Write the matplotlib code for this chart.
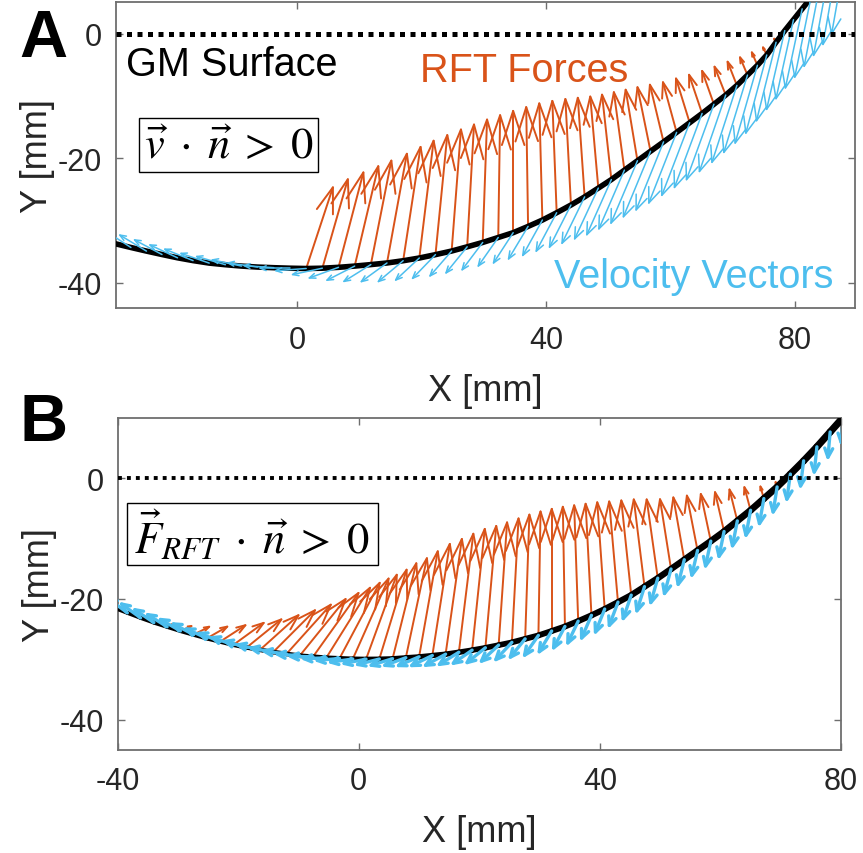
import numpy as np
import matplotlib
matplotlib.use("Agg")
import matplotlib.pyplot as plt
from matplotlib.collections import LineCollection
from matplotlib.patches import Rectangle

plt.rcParams['font.family'] = ['Liberation Sans', 'DejaVu Sans']
plt.rcParams['mathtext.fontset'] = 'stix'
plt.rcParams['axes.unicode_minus'] = False

ORANGE = '#D95319'
BLUE = '#4DBEEE'
NA = np.nan

# ---------------- Panel A: v . n > 0 ----------------
a_x = [-31.8, -29.3, -26.8, -24.3, -21.8, -19.3, -16.8, -14.2, -11.6, -9.0, -6.4, -3.8, -1.2,
       1.4, 4.0, 6.6, 9.2, 11.8, 14.4, 17.0, 19.6, 22.2, 24.8,
       27.3, 29.8, 32.3, 34.7, 37.1, 39.4, 41.7, 44.0, 46.2, 48.4,
       50.5, 52.6, 54.7, 56.8, 58.9, 61.0, 63.1, 65.1, 67.0, 68.9,
       70.7, 72.4, 74.0, 75.5, 77.0, 78.4, 79.8, 81.2, 82.6, 84.0,
       85.4, 86.8, 88.2]
a_y = [-33.17, -33.77, -34.37, -34.95, -35.50, -36.03, -36.48, -36.88, -37.14, -37.36, -37.52, -37.62, -37.70,
       -37.75, -37.70, -37.56, -37.36, -37.12, -36.86, -36.50, -36.06, -35.52, -34.94,
       -34.26, -33.56, -32.76, -31.99, -30.98, -29.96, -28.78, -27.54, -26.23, -24.82,
       -23.45, -21.93, -20.42, -18.90, -17.39, -15.86, -14.31, -12.82, -11.34, -9.86,
       -8.31, -6.65, -5.08, -3.42, -1.37, 0.50, 2.25, 4.00, 5.76, 7.53,
       9.30, 11.08, 12.80]
# RFT force components at each surface point (mm of arrow)
a_fu = [NA] * 13 + [4.3, 4.1, 4.0, 3.8, 3.3, 3.2, 2.8, 2.3, 1.9, 1.5,
                    1.1, 0.7, 0.3, 0.0, -0.3, -0.5, -0.7, -0.9, -1.1, -1.3,
                    -1.5, -1.7, -1.9, -2.1, -2.2, -2.2, -2.2, -2.1, -1.9, -1.8,
                    -1.5, -1.2, -0.9, -0.6, -0.3] + [NA] * 8
a_fv = [NA] * 13 + [13.05, 14.3, 15.26, 16.06, 16.72, 17.56, 18.3, 18.86, 19.22, 19.54,
                    19.66, 19.76, 19.66, 19.59, 19.18, 18.76, 17.98, 17.04, 15.93, 14.72,
                    13.65, 12.53, 11.42, 10.3, 9.19, 8.06, 7.11, 6.22, 5.36, 4.56,
                    3.81, 2.85, 2.08, 1.22, 0.57] + [NA] * 8
# velocity direction (deg) and arrow length (mm)
a_vdir = [143, 145, 147, 149, 152, 155, 158, 161, 164, 168, 172, 176, 180,
          184, 192, 200, 207, 212, 216, 220, 223, 226, 229,
          231, 233, 235, 237, 239, 241, 242, 243, 244, 245,
          246, 246.5, 247, 247.5, 248, 248.5, 249, 249.5, 250, 251,
          252, 253, 254, 255, 256, 257, 257.5, 258, 258.5, 259,
          259.5, 260, 260]
a_vlen = [5.2, 5.2, 5.1, 5.0, 5.0, 4.9, 4.9, 4.8, 4.8, 4.8, 4.8, 4.8, 4.8,
          4.9, 4.9, 5.0, 5.0, 5.1, 5.1, 5.2, 5.2, 5.3, 5.3,
          5.4, 5.5, 5.6, 5.8, 6.1, 6.5, 7.0, 7.6, 8.3, 9.0,
          9.7, 10.3, 10.9, 11.4, 11.8, 12.2, 12.5, 12.7, 12.9, 13.0,
          13.0, 13.0, 13.0, 13.0, 13.0, 13.0, 13.0, 13.0, 13.0, 13.0,
          13.0, 13.0, 13.0]

# ---------------- Panel B: F_RFT . n > 0 ----------------
b_x = [-40.6, -38.4, -36.2, -34.0, -31.8, -29.6, -27.4, -25.2, -23.0, -20.8,
       -18.6, -16.4, -14.2, -12.0, -9.8, -7.6, -5.4, -3.2, -1.0, 1.2,
       3.4, 5.6, 7.8, 10.0, 12.2, 14.4, 16.6, 18.8, 21.0, 23.2,
       25.4, 27.6, 29.8, 32.0, 34.2, 36.4, 38.6, 40.8, 43.0, 45.2,
       47.4, 49.6, 51.8, 54.0, 56.2, 58.4, 60.6, 62.8, 65.0, 67.2,
       69.4, 71.6, 73.8, 76.0, 78.2, 80.4]
b_y = [-21.47, -22.31, -23.14, -23.92, -24.62, -25.31, -25.93, -26.54, -27.08, -27.61,
       -28.05, -28.45, -28.81, -29.12, -29.42, -29.59, -29.77, -29.87, -29.96, -29.99,
       -29.97, -29.91, -29.75, -29.60, -29.38, -29.16, -28.84, -28.49, -28.10, -27.66,
       -27.20, -26.62, -26.05, -25.32, -24.57, -23.68, -22.72, -21.68, -20.54, -19.37,
       -17.96, -16.56, -15.04, -13.50, -11.96, -10.42, -8.82, -7.06, -5.30, -3.36,
       -1.43, 0.70, 2.90, 5.22, 7.68, 10.15]
b_fu = [NA, NA, NA, 0.47, 1.11, 1.83, 2.58, 3.38, 4.19, 5.02,
        5.75, 6.39, 6.93, 7.36, 7.61, 7.55, 7.26, 6.67, 5.94, 5.10,
        4.53, 3.94, 3.5, 3.1, 2.9, 2.7, 2.4, 2.1, 1.8, 1.4,
        1.1, 0.7, 0.35, 0.0, -0.35, -0.67, -0.97, -1.24, -1.46, -1.65,
        -1.78, -1.84, -1.83, -1.82, -1.77, -1.66, -1.5, -1.3, -1.03, -0.57,
        -0.25, NA, NA, NA, NA, NA]
b_fv = [NA, NA, NA, 0.17, 0.45, 0.81, 1.32, 1.95, 2.72, 3.64,
        4.66, 5.75, 6.93, 8.17, 9.40, 10.58, 11.62, 12.54, 13.34, 14.0,
        14.82, 15.82, 16.5, 17.5, 18.5, 19.1, 19.65, 20.1, 20.2, 20.35,
        20.55, 20.6, 20.55, 20.26, 19.85, 19.2, 18.5, 17.7, 16.7, 15.7,
        14.46, 13.06, 11.57, 10.33, 9.09, 7.82, 6.52, 5.2, 3.83, 2.0,
        0.8, NA, NA, NA, NA, NA]
b_vdir = [142, 143, 144, 146, 148, 150, 152, 155, 158, 161,
          164, 167, 170, 173, 176, 179, 182, 185, 188, 191,
          194, 197, 200, 203, 206, 209, 212, 215, 219, 223,
          227, 231, 235, 239, 242, 244.5, 246.5, 248, 249.5, 251,
          252.5, 254, 255, 256, 257, 258, 258.5, 259, 259.5, 260,
          261, 262, 263, 264, 265, 265]
b_vlen = [3.9, 3.9, 3.9, 3.8, 3.8, 3.8, 3.8, 3.7, 3.7, 3.7,
          3.7, 3.7, 3.7, 3.7, 3.7, 3.7, 3.7, 3.7, 3.7, 3.7,
          3.7, 3.7, 3.7, 3.7, 3.8, 3.8, 3.8, 3.8, 3.9, 3.9,
          3.9, 3.9, 4.0, 4.0, 4.0, 4.0, 4.1, 4.1, 4.1, 4.1,
          4.2, 4.2, 4.2, 4.2, 4.2, 4.2, 4.2, 4.2, 4.2, 4.2,
          4.2, 4.2, 4.2, 4.2, 4.2, 4.2]


def draw_arrows(ax, x, y, u, v, color, lw, head=0.33, spread=0.35, head_max=None, zorder=3):
    """MATLAB-style quiver: a shaft plus two open barbs, in data units."""
    segs = []
    for xi, yi, ui, vi in zip(x, y, u, v):
        if not (np.isfinite(ui) and np.isfinite(vi)):
            continue
        length = np.hypot(ui, vi)
        if length == 0:
            continue
        a = head if head_max is None else min(head, head_max / length)
        tx, ty = xi + ui, yi + vi
        b1 = (tx - a * (ui + spread * vi), ty - a * (vi - spread * ui))
        b2 = (tx - a * (ui - spread * vi), ty - a * (vi + spread * ui))
        segs.append([(xi, yi), (tx, ty)])
        segs.append([b1, (tx, ty), b2])
    lc = LineCollection(segs, colors=color, linewidths=lw, zorder=zorder,
                        capstyle='round', joinstyle='round')
    ax.add_collection(lc)


def polar_to_uv(direction, length):
    d = np.radians(np.asarray(direction, float))
    L = np.asarray(length, float)
    return L * np.cos(d), L * np.sin(d)


def style_axes(ax, xticks, yticks, xlim, ylim):
    ax.set_xlim(*xlim)
    ax.set_ylim(*ylim)
    ax.set_xticks(xticks)
    ax.set_yticks(yticks)
    ax.set_xticklabels([str(t) for t in xticks])
    ax.set_yticklabels([str(t) for t in yticks])
    for s in ax.spines.values():
        s.set_color('#6e6e6e')
        s.set_linewidth(1.3)
    ax.tick_params(direction='in', length=5, width=1.0, color='#6e6e6e',
                   top=True, right=True, labelsize=22, labelcolor='#262626')
    ax.tick_params(axis='x', pad=12)
    ax.tick_params(axis='y', pad=10)
    ax.set_xlabel('X [mm]', fontsize=26, color='#262626', labelpad=13)
    ax.set_ylabel('Y [mm]', fontsize=26, color='#262626', labelpad=2)


fig = plt.figure(figsize=(8.63, 8.54), dpi=100)

# ----- Panel A -----
axA = fig.add_axes([0.13442, 0.63817, 0.85632, 0.35831])
style_axes(axA, [0, 40, 80], [-40, -20, 0], (-29.2, 89.7), (-44.1, 5.1))
axA.axhline(0, color='black', lw=3.6, ls=(0, (1, 1.1)), dash_capstyle='butt', zorder=5)
axA.plot(a_x, a_y, color='black', lw=4.0, solid_capstyle='round', zorder=3)
draw_arrows(axA, a_x, a_y, a_fu, a_fv, ORANGE, 1.4, head=0.3, spread=0.33, head_max=5.5, zorder=2)
au, av = polar_to_uv(a_vdir, a_vlen)
draw_arrows(axA, a_x, a_y, au, av, BLUE, 1.1, head=0.2, spread=0.4, zorder=4)
axA.text(-27.6, -6.65, 'GM Surface', fontsize=28.5, color='black', va='baseline', zorder=6)
axA.text(19.7, -7.56, 'RFT Forces', fontsize=28.5, color=ORANGE, va='baseline', zorder=6)
axA.text(41.2, -40.65, 'Velocity Vectors', fontsize=28.5, color=BLUE, va='baseline', zorder=6)
axA.add_patch(Rectangle((-25.5, -22.3), 28.8, 8.74, facecolor='white',
                        edgecolor='black', lw=1.0, zorder=6))
axA.text(-11.1, -17.9, r'$\vec{v}\;\cdot\;\vec{n}\;>\;0$', fontsize=32,
         ha='center', va='center', zorder=7)

# ----- Panel B -----
axB = fig.add_axes([0.13639, 0.12096, 0.83812, 0.38841])
style_axes(axB, [-40, 0, 40, 80], [-40, -20, 0], (-40, 80), (-45, 10))
axB.axhline(0, color='black', lw=2.8, ls=(0, (1, 1.3)), dash_capstyle='butt', zorder=5)
bx = np.asarray(b_x)
by = np.asarray(b_y)
pts = np.column_stack([bx, by]).reshape(-1, 1, 2)
segs = np.concatenate([pts[:-1], pts[1:]], axis=1)
widths = np.clip(2.8 + 2.4 * (bx[:-1] + 40) / 120, 2.8, 5.2)
axB.add_collection(LineCollection(segs, colors='black', linewidths=widths,
                                  capstyle='round', joinstyle='round', zorder=3))
draw_arrows(axB, b_x, b_y, b_fu, b_fv, ORANGE, 1.4, head=0.3, spread=0.33, head_max=5.5, zorder=2)
bu, bv = polar_to_uv(b_vdir, b_vlen)
draw_arrows(axB, b_x, b_y, bu, bv, BLUE, 2.4, head=0.35, spread=0.45, zorder=4)
axB.add_patch(Rectangle((-38.5, -14.4), 41.65, 10.37, facecolor='white',
                        edgecolor='black', lw=1.0, zorder=6))
axB.text(-17.7, -9.4, r'$\vec{F}_{RFT}\;\cdot\;\vec{n}\;>\;0$', fontsize=32,
         ha='center', va='center', zorder=7)

# panel letters
fig.text(19 / 863, 1 - 57 / 854, 'A', fontsize=48, fontweight='bold', va='baseline', ha='left')
fig.text(19 / 863, 1 - 441 / 854, 'B', fontsize=48, fontweight='bold', va='baseline', ha='left')

fig.savefig('out.png', dpi=100)
